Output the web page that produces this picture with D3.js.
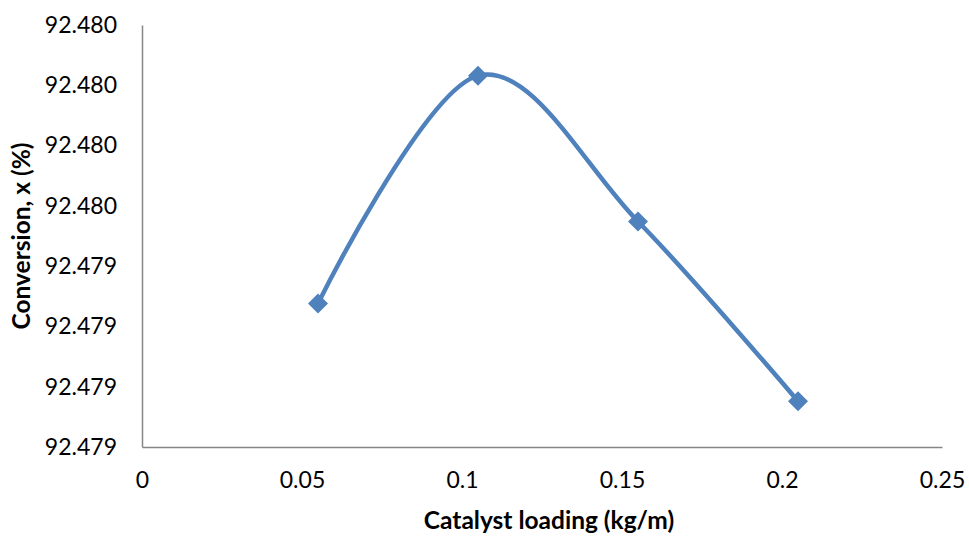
<!DOCTYPE html>
<html>
<head>
<meta charset="utf-8">
<script src="https://cdn.jsdelivr.net/npm/d3@7"></script>
<style>
  body { margin: 0; background: #fff; }
  text { font-family: Lato, "Open Sans", sans-serif; fill: #000; }
</style>
</head>
<body>
<div id="chart"></div>
<script>
"use strict";

// Catalyst loading (kg/m) and conversion x (%)
const loading = [0.055, 0.105, 0.155, 0.205];
const conversion = [92.479176, 92.479932, 92.479448, 92.478852];

const xTicks = [0, 0.05, 0.1, 0.15, 0.2, 0.25];
const xTickLabels = ["0", "0.05", "0.1", "0.15", "0.2", "0.25"];
const yTicks = [92.4787, 92.4789, 92.4791, 92.4793, 92.4795, 92.4797, 92.4799, 92.4801];
const yTickLabels = ["92.479", "92.479", "92.479", "92.479", "92.480", "92.480", "92.480", "92.480"];

const WIDTH = 969;
const HEIGHT = 536;
const LEFT = 142;
const RIGHT = 942;
const TOP = 25;
const BOTTOM = 447;

function _main() {
  const svg = d3.select("#chart").append("svg").attr("width", WIDTH).attr("height", HEIGHT);

  const xScale = d3.scaleLinear().domain([0, 0.25]).range([LEFT, RIGHT]);
  const yScale = d3.scaleLinear().domain([yTicks[0], yTicks[yTicks.length - 1]]).range([BOTTOM, TOP]);

  addAxes(svg, xScale, yScale);

  const data = loading.map((x, i) => ({ x: x, y: conversion[i] }));

  // smoothed line like the spreadsheet one
  const line = d3
    .line()
    .x((d) => xScale(d.x))
    .y((d) => yScale(d.y))
    .curve(d3.curveCardinal.tension(0));
  svg
    .append("path")
    .datum(data)
    .attr("d", line)
    .attr("fill", "none")
    .attr("stroke", "#4F81BD")
    .attr("stroke-width", 4.5);

  // diamond markers
  svg
    .selectAll("path.marker")
    .data(data)
    .enter()
    .append("path")
    .attr("class", "marker")
    .attr("d", d3.symbol().type(d3.symbolSquare).size(200))
    .attr("transform", (d) => `translate(${xScale(d.x)},${yScale(d.y)}) rotate(45)`)
    .attr("fill", "#4F81BD");
}

function addAxes(svg, xScale, yScale) {
  // left axis, labels only
  const yAxis = svg
    .append("g")
    .attr("transform", `translate(${LEFT},0)`)
    .call(
      d3
        .axisLeft(yScale)
        .tickValues(yTicks)
        .tickSize(0)
        .tickPadding(25)
        .tickFormat((d, i) => yTickLabels[i])
    );
  yAxis.select(".domain").attr("stroke", "#868686").attr("stroke-width", 1.5);
  yAxis.selectAll("text").style("font-size", "23px");

  // bottom axis
  const xAxis = svg
    .append("g")
    .attr("transform", `translate(0,${BOTTOM})`)
    .call(
      d3
        .axisBottom(xScale)
        .tickValues(xTicks)
        .tickSize(0)
        .tickPadding(25)
        .tickFormat((d, i) => xTickLabels[i])
    );
  xAxis.select(".domain").attr("stroke", "#868686").attr("stroke-width", 1.5);
  xAxis.selectAll("text").style("font-size", "23px");

  svg
    .append("text")
    .attr("x", 549)
    .attr("y", 529)
    .attr("text-anchor", "middle")
    .style("font-size", "24.5px")
    .style("font-weight", "bold")
    .text("Catalyst loading (kg/m)");

  svg
    .append("text")
    .attr("transform", `translate(30,236) rotate(-90)`)
    .attr("text-anchor", "middle")
    .style("font-size", "24.5px")
    .style("font-weight", "bold")
    .text("Conversion, x (%)");
}

_main();
</script>
</body>
</html>
